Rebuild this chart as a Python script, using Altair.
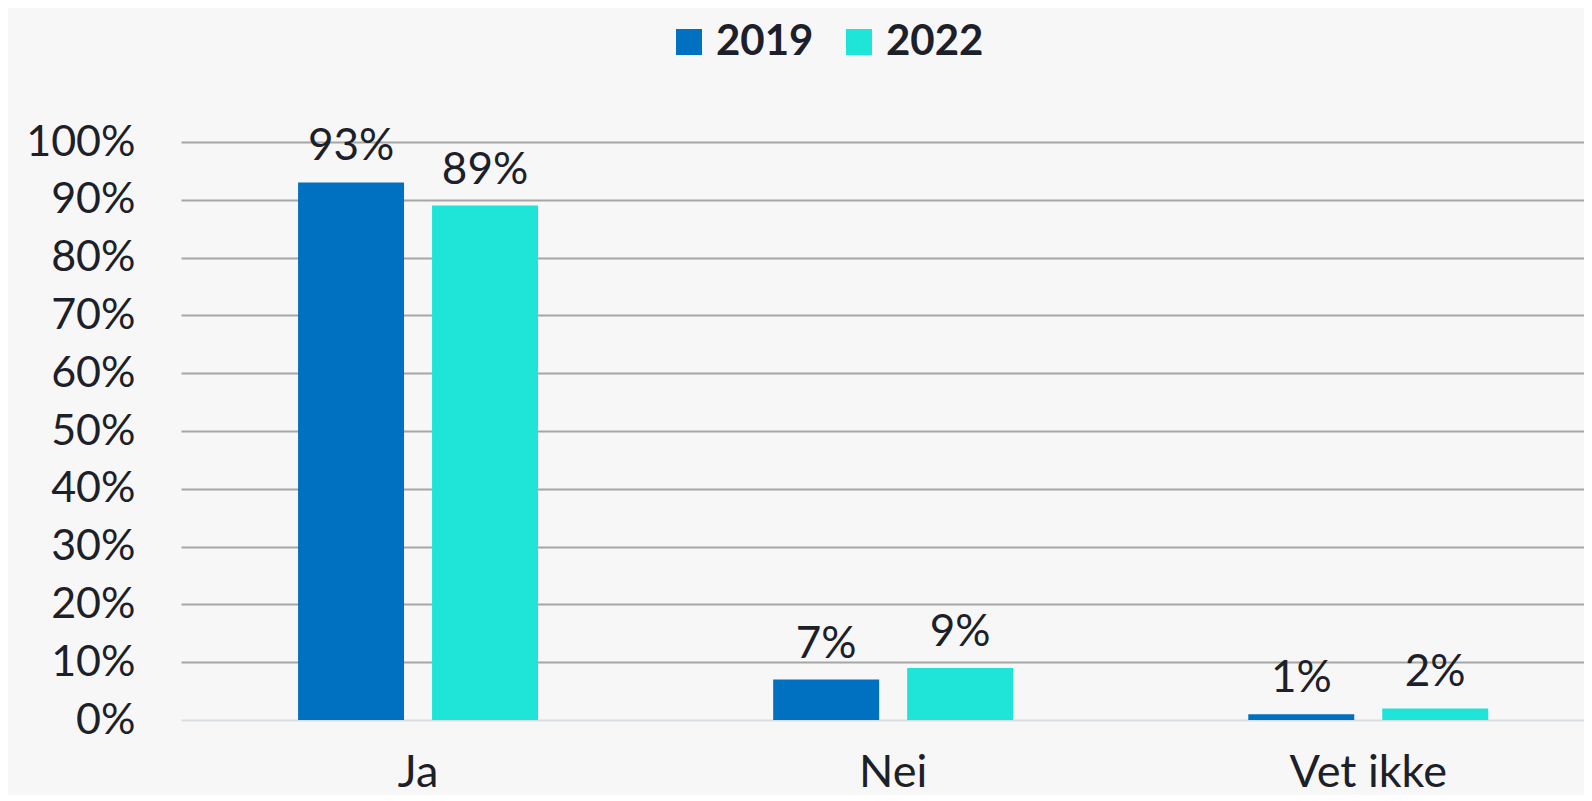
import altair as alt
import pandas as pd

categories = ["Ja", "Nei", "Vet ikke"]
years = ["2019", "2022"]
values_2019 = [0.93, 0.07, 0.01]
values_2022 = [0.89, 0.09, 0.02]
y_ticks = [0.0, 0.1, 0.2, 0.3, 0.4, 0.5, 0.6, 0.7, 0.8, 0.9, 1.0]
colors = ["#0070C0", "#1FE5D8"]

rows = []
for c, a, b in zip(categories, values_2019, values_2022):
    rows.append({"Svar": c, "År": years[0], "Andel": a})
    rows.append({"Svar": c, "År": years[1], "Andel": b})
df = pd.DataFrame(rows)

FONT = "Lato"
TXT = "#1c2029"

x = alt.X(
    "Svar:N", sort=categories, title=None,
    scale=alt.Scale(paddingInner=0.495, paddingOuter=0.224, align=0.55),
    axis=alt.Axis(labelAngle=0, labelFontSize=45, labelFont=FONT, labelColor=TXT,
                  labelPadding=30, ticks=False, domain=False, labelBaseline="top"),
)
xo = alt.XOffset("År:N", sort=years, scale=alt.Scale(paddingInner=0.209, paddingOuter=0))
y = alt.Y(
    "Andel:Q", title=None,
    scale=alt.Scale(domain=[0, 1], nice=False),
    axis=alt.Axis(values=y_ticks, format=".0%", labelFontSize=43, labelFont=FONT,
                  labelColor=TXT, labelPadding=46, ticks=False, domain=False,
                  gridColor={"condition": {"test": "datum.value === 0", "value": "#d9dee3"},
                             "value": "#a6a6a6"},
                  gridWidth=2),
)

bars = alt.Chart(df).mark_bar().encode(
    x=x, xOffset=xo, y=y,
    color=alt.Color(
        "År:N", sort=years,
        scale=alt.Scale(domain=years, range=colors),
        legend=alt.Legend(title=None, orient="none", legendX=487, legendY=-121,
                          direction="horizontal", symbolType="square", symbolSize=676,
                          symbolStrokeWidth=0, labelFontSize=42, labelFont=FONT,
                          labelFontWeight="bold", labelColor=TXT, columnPadding=24,
                          labelOffset=6),
    ),
)
labels = alt.Chart(df).mark_text(
    baseline="alphabetic", dy=-22, fontSize=44, font=FONT, color=TXT
).encode(x=x, xOffset=xo, y=y, text=alt.Text("Andel:Q", format=".0%"))

chart = (bars + labels).properties(
    width=1403, height=578,
    autosize=alt.AutoSizeParams(type="none"),
    padding={"left": 173, "top": 134, "right": 0, "bottom": 75},
    background="#f7f7f7",
).configure_view(stroke=None)

chart.save("out.html", embed_options={"renderer": "svg", "actions": False})
